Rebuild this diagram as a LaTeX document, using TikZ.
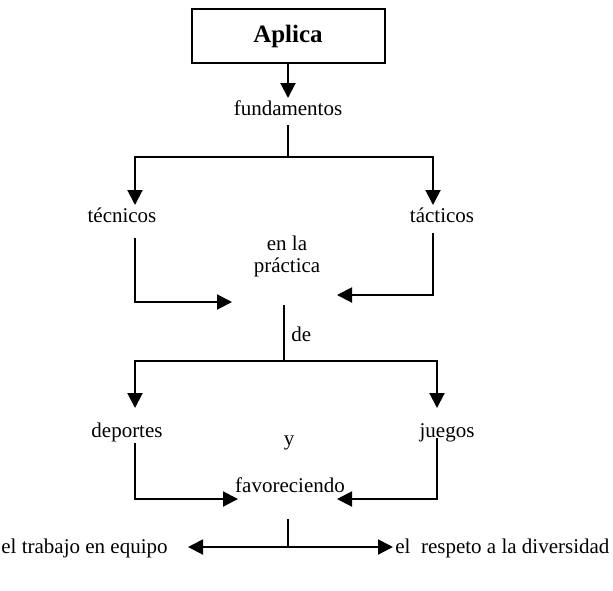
\documentclass[tikz,border=0pt]{standalone}
\usepackage{fontspec}
\setmainfont{Liberation Serif}
\usetikzlibrary{arrows.meta}
\tikzset{
  lbl/.style={inner sep=0pt, font=\fontsize{10.5}{11}\selectfont},
  ttl/.style={draw, line width=1pt, minimum width=96.5pt, minimum height=27pt, inner sep=0pt, font=\fontsize{12.5}{14}\selectfont\bfseries},
  ln/.style={line width=1pt},
  arr/.style={line width=1pt, -{Triangle[length=7.5pt,width=7.5pt]}},
  darr/.style={line width=1pt, {Triangle[length=7.5pt,width=7.5pt]}-{Triangle[length=7.5pt,width=7.5pt]}}
}
\begin{document}
\begin{tikzpicture}[x=0.5pt,y=-0.5pt]
\useasboundingbox (0,0) rectangle (613,590);
% nodes
\node[ttl] (apl) at (288,36) {Aplica};
\node[lbl, anchor=base] (fund) at (288,115) {fundamentos};
\node[lbl, anchor=base] (tec) at (122,222) {técnicos};
\node[lbl, anchor=base] (tac) at (442,222) {tácticos};
\node[lbl, anchor=base, align=center] (prac) at (287,272) {en la\\práctica};
\node[lbl, anchor=base west] (de) at (291,341) {de};
\node[lbl, anchor=base] (dep) at (127,437) {deportes};
\node[lbl, anchor=base] (jue) at (447,437) {juegos};
\node[lbl, anchor=base] (y) at (289,445) {y};
\node[lbl, anchor=base] (fav) at (290,492) {favoreciendo};
\node[lbl, anchor=base east] (trab) at (168,553) {el trabajo en equipo};
\node[lbl, anchor=base west] (resp) at (395,553) {el~~respeto a la diversidad};
% coordinates
\coordinate (a1) at (288,98);
\coordinate (f0) at (288,125);
\coordinate (f1) at (288,157);
\coordinate (tecT) at (135,205);
\coordinate (tacT) at (433,205);
\coordinate (tecB) at (135,238);
\coordinate (tacB) at (433,233);
\coordinate (pL) at (232,302);
\coordinate (pR) at (337,295);
\coordinate (p0) at (284,305);
\coordinate (p1) at (284,361);
\coordinate (depT) at (135,408);
\coordinate (jueT) at (437,408);
\coordinate (depB) at (135,443);
\coordinate (jueB) at (437,438);
\coordinate (fL) at (238,499);
\coordinate (fR) at (337,499);
\coordinate (v0) at (288,519);
\coordinate (v1) at (288,547);
\coordinate (bL) at (188,547);
\coordinate (bR) at (393,547);
% connectors
\draw[arr] (apl.south) -- (a1);
\draw[ln] (f0) -- (f1);
\draw[arr] (f1) -| (tecT);
\draw[arr] (f1) -| (tacT);
\draw[arr] (tecB) |- (pL);
\draw[arr] (tacB) |- (pR);
\draw[ln] (p0) -- (p1);
\draw[arr] (p1) -| (depT);
\draw[arr] (p1) -| (jueT);
\draw[arr] (depB) |- (fL);
\draw[arr] (jueB) |- (fR);
\draw[ln] (v0) -- (v1);
\draw[darr] (bL) -- (bR);
\end{tikzpicture}
\end{document}
